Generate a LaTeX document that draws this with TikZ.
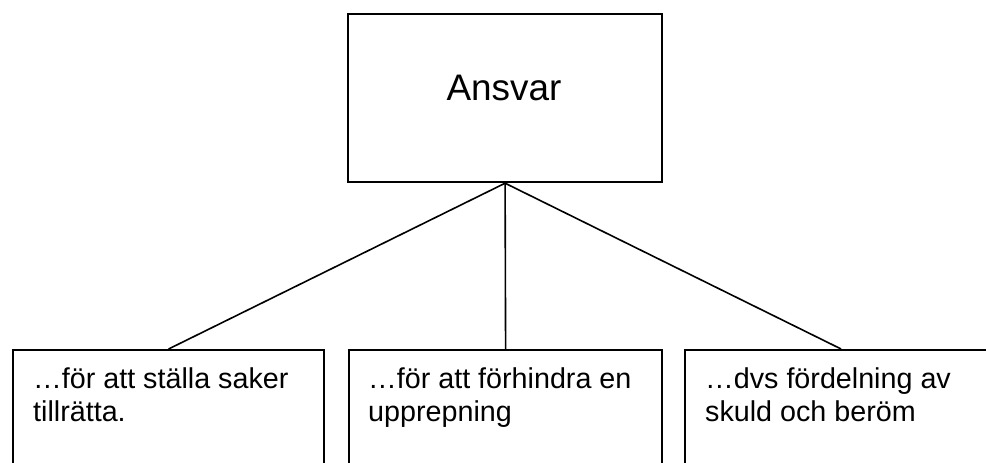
\documentclass[tikz,border=0pt]{standalone}
\usepackage{fontspec}
\setmainfont{Liberation Sans}
\begin{document}
\begin{tikzpicture}[x=1pt,y=-1pt,
  frame/.style={draw=black,line width=2.2pt,inner sep=0pt,anchor=north west},
  link/.style={draw=black,line width=1.6pt},
  label/.style={inner sep=0pt,anchor=base west,align=left,
    font=\fontsize{28.7}{33}\selectfont}]
  \useasboundingbox (0,0) rectangle (986,463);
  \fill[white] (0,0) rectangle (986,463);
  \begin{scope}
    \clip (0,0) rectangle (986,463);
    % top box
    \node[frame,minimum width=314pt,minimum height=168pt] (top) at (347,13) {};
    \node[inner sep=0pt,anchor=base,font=\fontsize{36.9}{42}\selectfont] (title) at (504,100.5) {Ansvar};
    % lower boxes, running off the bottom edge
    \node[frame,minimum width=311pt,minimum height=140pt] (b1) at (12,349) {};
    \node[frame,minimum width=313pt,minimum height=140pt] (b2) at (348,349) {};
    \node[frame,minimum width=312pt,minimum height=140pt] (b3) at (684,349) {};
    % the base anchor of a two-line label sits on its last line
    \node[label] (t1) at (33,421) {…för att ställa saker\\tillrätta.};
    \node[label] (t2) at (368,421) {…för att förhindra en\\upprepning};
    \node[label] (t3) at (705,421) {…dvs fördelning av\\skuld och beröm};
    % connectors
    \draw[link] (top.south) -- (b1.north);
    \draw[link] (top.south) -- (b2.north);
    \draw[link] (top.south) -- (b3.north);
  \end{scope}
\end{tikzpicture}
\end{document}
